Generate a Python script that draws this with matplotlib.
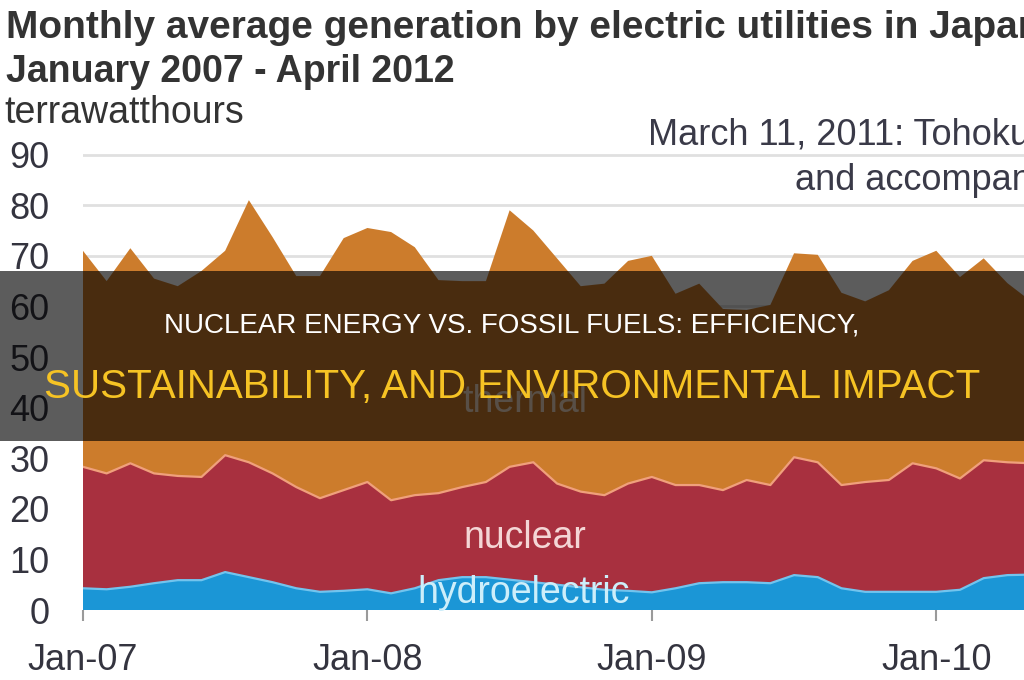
import numpy as np
import matplotlib
matplotlib.use("Agg")
import matplotlib.pyplot as plt
from matplotlib import font_manager
from matplotlib.patches import Rectangle


def pick_font(names):
    for n in names:
        try:
            font_manager.findfont(font_manager.FontProperties(family=n),
                                  fallback_to_default=False)
            return n
        except ValueError:
            pass
    return "DejaVu Sans"


base_font = pick_font(["Liberation Sans", "Arial", "DejaVu Sans"])
narrow_font = pick_font(["Liberation Sans Narrow"])
has_narrow = narrow_font == "Liberation Sans Narrow"
plt.rcParams["font.family"] = [base_font, "DejaVu Sans"]

# monthly generation, terawatthours (Jan 2007 onward, visible part of chart)
months = np.arange(41)
hydro = [4.3, 4.1, 4.6, 5.3, 5.9, 5.9, 7.5, 6.5, 5.5, 4.3, 3.6, 3.8,
         4.1, 3.3, 4.3, 5.9, 6.5, 6.5, 6.0, 5.5, 5.0, 4.5, 4.0, 3.8,
         3.5, 4.3, 5.3, 5.5, 5.5, 5.3, 6.9, 6.5, 4.3, 3.6, 3.6, 3.6,
         3.6, 4.0, 6.3, 6.9, 7.0]
nuclear = [24.0, 22.9, 24.4, 21.7, 20.6, 20.4, 23.1, 22.7, 21.5, 20.0, 18.5, 19.9,
           21.2, 18.4, 18.4, 17.2, 17.8, 18.8, 22.3, 23.7, 20.0, 18.9, 18.7, 21.2,
           22.8, 20.4, 19.4, 18.2, 20.2, 19.4, 23.3, 22.7, 20.4, 21.7, 22.1, 25.4,
           24.4, 22.0, 23.3, 22.3, 22.0]
thermal = [42.7, 38.0, 42.5, 38.5, 37.5, 40.7, 40.4, 51.8, 46.7, 41.7, 43.9, 49.8,
           50.2, 53.0, 49.0, 42.1, 40.7, 39.7, 50.7, 45.8, 44.5, 40.6, 41.8, 44.0,
           43.7, 37.8, 39.8, 35.8, 33.6, 35.6, 40.3, 41.0, 38.0, 35.7, 37.5, 40.0,
           43.0, 39.8, 39.9, 35.4, 32.0]
tick_pos = [0, 12, 24, 36]
tick_labels = ["Jan-07", "Jan-08", "Jan-09", "Jan-10"]

fig = plt.figure(figsize=(10.24, 6.8), dpi=100)
ax = fig.add_axes([0.081, 0.1029, 0.919, 0.6846])

ax.stackplot(months, hydro, nuclear, thermal,
             colors=["#1b96d6", "#a8303f", "#cc7c2c"], linewidth=0)
hydro_top = np.array(hydro)
nuclear_top = hydro_top + np.array(nuclear)
ax.plot(months, hydro_top, color="#72c4ee", lw=1.6)
ax.plot(months, nuclear_top, color="#f0a07c", lw=1.6)

ax.set_xlim(0, 39.7)
ax.set_ylim(0, 92)
ax.set_yticks(range(0, 91, 10))
ax.yaxis.grid(True, color="#e0e0e0", lw=2)
ax.set_axisbelow(True)
for s in ax.spines.values():
    s.set_visible(False)

ax.set_xticks(tick_pos)
ax.set_xticklabels(tick_labels)
ax.tick_params(axis="x", length=8, width=1.5, color="#9a9a9a", pad=16,
               labelsize=26, labelcolor="#34343f")
ax.tick_params(axis="y", length=0, pad=24, labelsize=26, labelcolor="#34343f")

# area labels
ax.text(18.65, 39.1, "thermal", ha="center", va="baseline", fontsize=27,
        color="#f3dcc4")
ax.text(18.65, 12.3, "nuclear", ha="center", va="baseline", fontsize=27,
        color="#f4d6d6")
ax.text(18.6, 1.4, "hydroelectric", ha="center", va="baseline", fontsize=27,
        color="#cdeefa")

# titles
fig.text(0.006, 0.944, "Monthly average generation by electric utilities in Japan",
         fontsize=28, fontweight="bold", color="#333333", va="baseline")
fig.text(0.006, 0.879, "January 2007 - April 2012", fontsize=27,
         fontweight="bold", color="#333333", va="baseline")
fig.text(0.004, 0.819, "terrawatthours", fontsize=27, color="#333333",
         va="baseline")
fig.text(0.633, 0.787, "March 11, 2011: Tohoku earthquake", fontsize=26,
         color="#3a3a48", va="baseline")
fig.text(0.776, 0.721, "and accompanying tsunami", fontsize=26,
         color="#3a3a48", va="baseline")

# dark banner across the middle
fig.patches.append(Rectangle((0, 0.3515), 1, 0.25, transform=fig.transFigure,
                             facecolor="black", alpha=0.64, zorder=10))
if has_narrow:
    f1, f2, fam = 24, 34.4, [narrow_font, "DejaVu Sans"]
else:
    f1, f2, fam = 20, 29.1, [base_font, "DejaVu Sans"]
fig.text(0.5, 0.511, "NUCLEAR ENERGY VS. FOSSIL FUELS: EFFICIENCY,", ha="center",
         va="baseline", fontsize=f1, color="white", family=fam, zorder=11)
fig.text(0.5, 0.4147, "SUSTAINABILITY, AND ENVIRONMENTAL IMPACT", ha="center",
         va="baseline", fontsize=f2, color="#f6c324", family=fam, zorder=11)

plt.savefig("out.png", dpi=100)
